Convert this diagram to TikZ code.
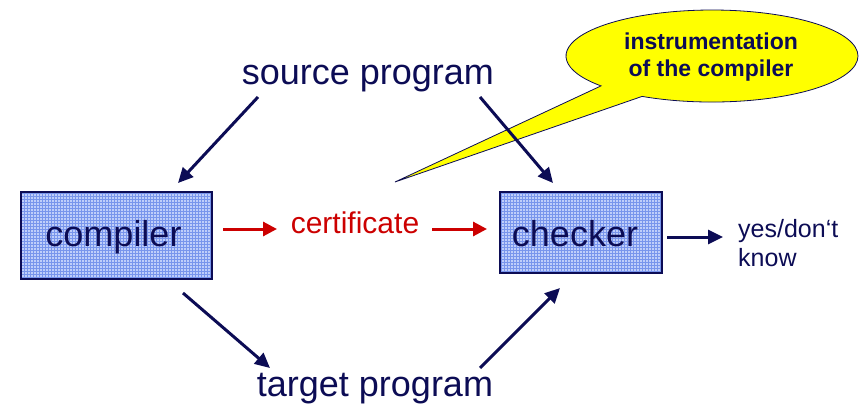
\documentclass[tikz,border=0pt]{standalone}
\usepackage{fontspec}
\setmainfont{Liberation Sans}
\usetikzlibrary{arrows.meta,patterns}

\definecolor{navy}{HTML}{0C0C55}
\definecolor{certred}{HTML}{CC0000}
\definecolor{boxbase}{HTML}{BFCEFA}
\definecolor{boxgrid}{HTML}{7895EC}
\definecolor{calloutyellow}{HTML}{FFFF00}

\tikzset{
  procbox/.style={draw=navy, line width=1.2pt, inner sep=0pt,
    preaction={fill=boxbase}, pattern=grid, pattern color=boxgrid},
  bigtext/.style={text=navy, inner sep=0pt, font=\fontsize{36}{43}\selectfont},
  redtext/.style={text=certred, inner sep=0pt, font=\fontsize{30}{36}\selectfont},
  smalltext/.style={text=navy, inner sep=0pt, align=left, font=\fontsize{25}{29}\selectfont},
  notetext/.style={text=navy, inner sep=0pt, align=center, font=\bfseries\fontsize{23}{26.5}\selectfont},
  flow/.style={draw=navy, line width=3pt, -{Triangle[length=15pt,width=14pt]}},
  certflow/.style={draw=certred, line width=3pt, -{Triangle[length=14pt,width=14pt]}}
}

\begin{document}
\begin{tikzpicture}[x=1pt,y=1pt]
  \useasboundingbox (0,0) rectangle (861,-406);

  % speech bubble: ellipse (centre (712,-56), radii 146 x 46) with a wedge
  \coordinate (tip) at (395,-182);
  \coordinate (wedgeA) at (601.0,-85.9);   % ellipse point at 220.5 deg
  \coordinate (wedgeB) at (642.1,-96.4);   % ellipse point at 241.4 deg
  \path[fill=calloutyellow, draw=navy, line width=0.8pt]
    (wedgeA) -- (tip) -- (wedgeB)
    arc[start angle=241.4, end angle=580.5, x radius=146, y radius=46] -- cycle;
  \node[notetext] (note) at (711,-57) {instrumentation\\of the compiler};

  % the two processing boxes
  \node[procbox, minimum width=191pt, minimum height=87pt] (compiler) at (116.5,-235.5) {};
  \node[procbox, minimum width=162pt, minimum height=81pt] (checker) at (581,-232.5) {};
  \node[bigtext, anchor=base] (compilerlabel) at (113.5,-246) {compiler};
  \node[bigtext, anchor=base] (checkerlabel) at (575,-246) {checker};

  % inputs and outputs
  \node[bigtext, anchor=base] (source) at (368,-85) {source program};
  \node[bigtext, anchor=base] (target) at (375,-396) {target program};
  \node[redtext, anchor=base] (cert) at (355,-233) {certificate};
  \node[smalltext, anchor=west] (verdict) at (738,-243.5) {yes/don‘t\\know};

  % connector end points
  \coordinate (s1) at (258,-97);   \coordinate (c1) at (178,-183);
  \coordinate (s2) at (480,-97);   \coordinate (k1) at (553,-183);
  \coordinate (c2) at (183,-293);  \coordinate (t1) at (270,-368);
  \coordinate (t2) at (480,-368);  \coordinate (k2) at (560,-288);
  \coordinate (k3) at (667,-237);  \coordinate (v1) at (723,-237);
  \coordinate (c3) at (223,-229);  \coordinate (e1) at (277,-229);
  \coordinate (e2) at (432,-229);  \coordinate (k4) at (487,-229);

  \draw[flow] (s1) -- (c1);
  \draw[flow] (s2) -- (k1);
  \draw[flow] (c2) -- (t1);
  \draw[flow] (t2) -- (k2);
  \draw[flow] (k3) -- (v1);
  \draw[certflow] (c3) -- (e1);
  \draw[certflow] (e2) -- (k4);
\end{tikzpicture}
\end{document}
